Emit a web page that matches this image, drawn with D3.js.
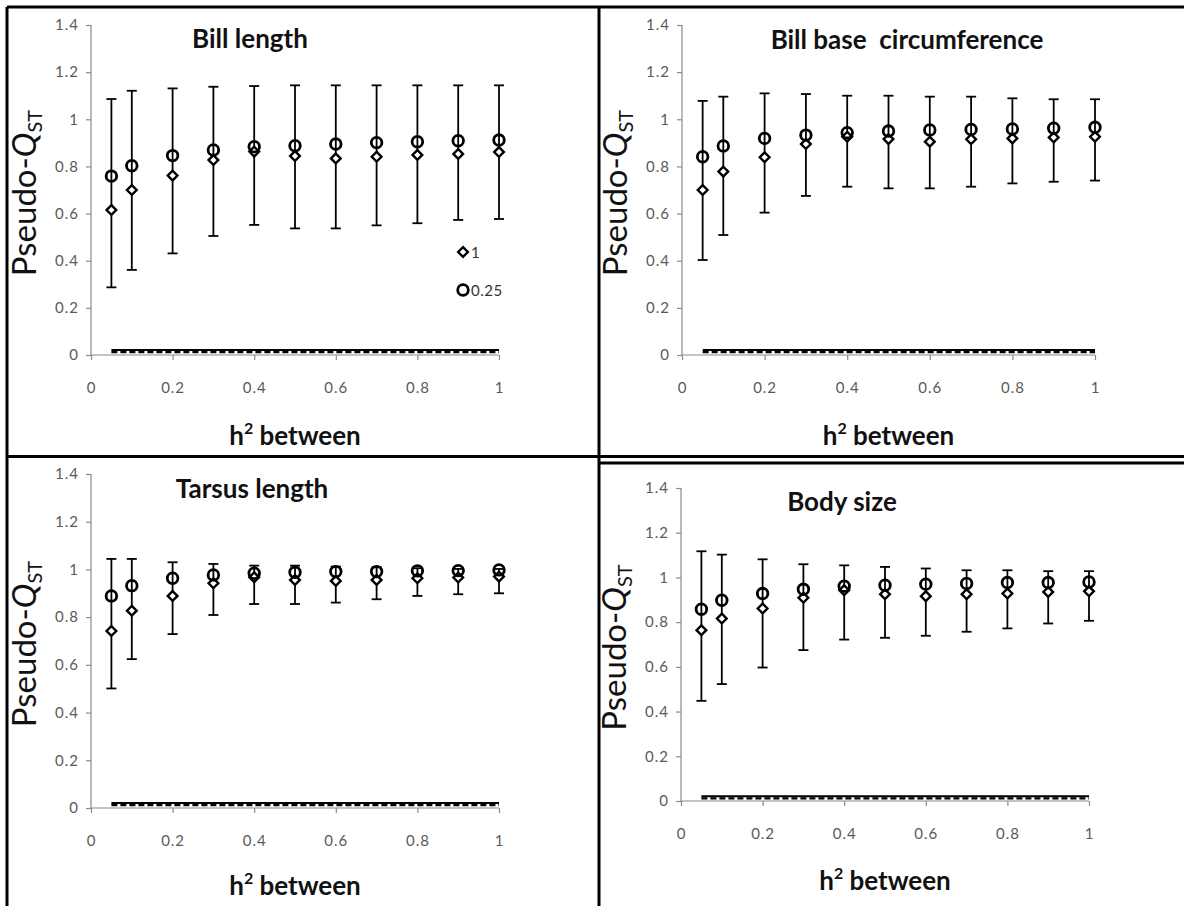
<!DOCTYPE html>
<html lang="en">
<head>
<meta charset="utf-8">
<title>Pseudo-QST panels</title>
<style type="text/css">
  body { margin: 0; background: #fff; }
  svg { display: block; }
</style>
</head>
<body>
<script src="https://cdnjs.cloudflare.com/ajax/libs/d3/7.8.5/d3.min.js"></script>
<script>

    var w = 1184;
    var h = 906;

    // x positions (h2 between)
    var xVals = [0.05, 0.1, 0.2, 0.3, 0.4, 0.5, 0.6, 0.7, 0.8, 0.9, 1];
    var xTicks = [0, 0.2, 0.4, 0.6, 0.8, 1];
    var yTicks = [0, 0.2, 0.4, 0.6, 0.8, 1, 1.2, 1.4];
    var legendNames = ["1", "0.25"];
    var titles = ["Bill length", "Bill base  circumference", "Tarsus length", "Body size"];

    // Bill length
    var billDiamond = [0.615, 0.70, 0.761, 0.827, 0.863, 0.844, 0.834, 0.841, 0.849, 0.853, 0.861];
    var billCircle  = [0.759, 0.803, 0.846, 0.870, 0.884, 0.888, 0.895, 0.901, 0.905, 0.909, 0.912];
    var billHi      = [1.086, 1.121, 1.131, 1.138, 1.141, 1.144, 1.144, 1.144, 1.144, 1.144, 1.144];
    var billLo      = [0.287, 0.361, 0.431, 0.505, 0.552, 0.537, 0.537, 0.550, 0.559, 0.573, 0.577];

    // Bill base circumference
    var baseDiamond = [0.700, 0.778, 0.839, 0.895, 0.926, 0.916, 0.905, 0.915, 0.919, 0.923, 0.926];
    var baseCircle  = [0.841, 0.887, 0.919, 0.933, 0.943, 0.950, 0.955, 0.957, 0.959, 0.962, 0.966];
    var baseHi      = [1.078, 1.096, 1.110, 1.107, 1.100, 1.100, 1.096, 1.096, 1.089, 1.085, 1.085];
    var baseLo      = [0.403, 0.509, 0.604, 0.675, 0.714, 0.707, 0.707, 0.714, 0.728, 0.735, 0.740];

    // Tarsus length
    var tarsDiamond = [0.742, 0.827, 0.889, 0.942, 0.967, 0.956, 0.952, 0.956, 0.963, 0.966, 0.970];
    var tarsCircle  = [0.889, 0.932, 0.963, 0.977, 0.984, 0.988, 0.991, 0.991, 0.994, 0.995, 0.998];
    var tarsHi      = [1.044, 1.044, 1.030, 1.023, 1.016, 1.016, 1.012, 1.009, 1.005, 1.002, 1.002];
    var tarsLo      = [0.501, 0.624, 0.729, 0.809, 0.855, 0.855, 0.861, 0.875, 0.889, 0.896, 0.900];

    // Body size
    var bodyDiamond = [0.764, 0.816, 0.861, 0.909, 0.943, 0.925, 0.916, 0.925, 0.928, 0.935, 0.938];
    var bodyCircle  = [0.858, 0.898, 0.928, 0.947, 0.961, 0.965, 0.970, 0.973, 0.977, 0.977, 0.980];
    var bodyHi      = [1.117, 1.102, 1.081, 1.059, 1.054, 1.047, 1.040, 1.032, 1.032, 1.028, 1.028];
    var bodyLo      = [0.448, 0.523, 0.597, 0.675, 0.722, 0.730, 0.739, 0.757, 0.772, 0.794, 0.806];

    // neutral reference lines (solid and dashed) near zero
    var solidLevel = 0.021;
    var dashedLevel = 0.012;

    var seriesD = [billDiamond, baseDiamond, tarsDiamond, bodyDiamond];
    var seriesC = [billCircle, baseCircle, tarsCircle, bodyCircle];
    var seriesHi = [billHi, baseHi, tarsHi, bodyHi];
    var seriesLo = [billLo, baseLo, tarsLo, bodyLo];

    // panel layout in pixels
    var panels = [
        {x0: 91, x1: 499, y0: 355, y1: 25, tx: 250, ty: 48, ay: 445},
        {x0: 682, x1: 1095, y0: 355, y1: 25, tx: 907, ty: 49, ay: 445},
        {x0: 91, x1: 499, y0: 808, y1: 474, tx: 252, ty: 498, ay: 895},
        {x0: 681, x1: 1089, y0: 801, y1: 488, tx: 842, ty: 511, ay: 890}
    ];

    var font = "Lato, 'Open Sans', sans-serif";

    var svg = d3.select("body")
            .append("svg")
            .attr("width", w)
            .attr("height", h);

    svg.append("rect").attr("width", w).attr("height", h).attr("fill", "#fff");

    panels.forEach(function(p, k){

        var x = d3.scaleLinear().domain([0, 1]).range([p.x0, p.x1]);
        var y = d3.scaleLinear().domain([0, 1.4]).range([p.y0, p.y1]);
        var g = svg.append("g");

        // axes
        var yAxis = d3.axisLeft(y).tickValues(yTicks).tickFormat(d3.format("~g"))
            .tickSize(5).tickPadding(7);
        var xAxis = d3.axisBottom(x).tickValues(xTicks).tickFormat(d3.format("~g"))
            .tickSize(5).tickPadding(22);

        var ya = g.append("g").attr("transform", "translate(" + p.x0 + ",0)").call(yAxis);
        var xa = g.append("g").attr("transform", "translate(0," + p.y0 + ")").call(xAxis);
        [ya, xa].forEach(function(a){
            a.selectAll("path.domain").attr("stroke", "#8a8a8a").attr("stroke-width", 1.2);
            a.selectAll(".tick line").attr("stroke", "#8a8a8a").attr("stroke-width", 1.2);
            a.selectAll(".tick text").attr("fill", "#5a5a5a")
                .attr("font-family", font).attr("font-size", 15)
                .attr("letter-spacing", 1);
        });
        // remove outer tick stubs at the ends of the domain path
        ya.select("path.domain").attr("d", "M0," + p.y0 + "V" + p.y1);
        xa.select("path.domain").attr("d", "M" + p.x0 + ",0H" + p.x1);

        // baseline reference lines
        g.append("line")
            .attr("x1", x(xVals[0])).attr("x2", x(xVals[xVals.length - 1]))
            .attr("y1", y(solidLevel)).attr("y2", y(solidLevel))
            .attr("stroke", "#000").attr("stroke-width", 2);
        g.append("line")
            .attr("x1", x(xVals[0])).attr("x2", x(xVals[xVals.length - 1]))
            .attr("y1", y(dashedLevel)).attr("y2", y(dashedLevel))
            .attr("stroke", "#000").attr("stroke-width", 2.2)
            .attr("stroke-dasharray", "6,3");

        // error bars
        var hi = seriesHi[k], lo = seriesLo[k];
        var eb = g.selectAll("g.err")
            .data(xVals)
            .enter()
            .append("g").attr("class", "err");
        eb.append("line")
            .attr("x1", function(d){ return x(d); })
            .attr("x2", function(d){ return x(d); })
            .attr("y1", function(d, i){ return y(hi[i]); })
            .attr("y2", function(d, i){ return y(lo[i]); })
            .attr("stroke", "#000").attr("stroke-width", 1.8);
        eb.append("line")
            .attr("x1", function(d){ return x(d) - 5; })
            .attr("x2", function(d){ return x(d) + 5; })
            .attr("y1", function(d, i){ return y(hi[i]); })
            .attr("y2", function(d, i){ return y(hi[i]); })
            .attr("stroke", "#000").attr("stroke-width", 1.8);
        eb.append("line")
            .attr("x1", function(d){ return x(d) - 5; })
            .attr("x2", function(d){ return x(d) + 5; })
            .attr("y1", function(d, i){ return y(lo[i]); })
            .attr("y2", function(d, i){ return y(lo[i]); })
            .attr("stroke", "#000").attr("stroke-width", 1.8);

        // diamonds (1)
        var dia = d3.symbol().type(d3.symbolDiamond2).size(60);
        g.selectAll("path.dia")
            .data(seriesD[k])
            .enter()
            .append("path").attr("class", "dia")
            .attr("d", dia)
            .attr("transform", function(d, i){ return "translate(" + x(xVals[i]) + "," + y(d) + ")"; })
            .attr("fill", "#fff").attr("stroke", "#000").attr("stroke-width", 2.4);

        // circles (0.25)
        g.selectAll("circle.cir")
            .data(seriesC[k])
            .enter()
            .append("circle").attr("class", "cir")
            .attr("cx", function(d, i){ return x(xVals[i]); })
            .attr("cy", function(d){ return y(d); })
            .attr("r", 5.3)
            .attr("fill", "none").attr("stroke", "#000").attr("stroke-width", 2.8);

        // panel title
        g.append("text")
            .attr("x", p.tx).attr("y", p.ty)
            .attr("text-anchor", "middle")
            .attr("font-family", font).attr("font-weight", "bold")
            .attr("font-size", 26).attr("fill", "#111")
            .attr("xml:space", "preserve")
            .text(titles[k]);

        // x axis title
        var xt = g.append("text")
            .attr("x", (p.x0 + p.x1) / 2).attr("y", p.ay)
            .attr("text-anchor", "middle")
            .attr("font-family", font).attr("font-weight", "bold")
            .attr("font-size", 26).attr("fill", "#111");
        xt.append("tspan").text("h");
        xt.append("tspan").attr("font-size", 16).attr("dy", -11).text("2");
        xt.append("tspan").attr("dy", 11).text(" between");

        // y axis title
        var yt = g.append("text")
            .attr("transform", "translate(" + (p.x0 - 55) + "," + ((p.y0 + p.y1) / 2 + 3) + ") rotate(-90)")
            .attr("text-anchor", "middle")
            .attr("font-family", font).attr("font-size", 33).attr("fill", "#111");
        yt.append("tspan").text("Pseudo-");
        yt.append("tspan").attr("font-style", "italic").text("Q");
        yt.append("tspan").attr("font-size", 20).attr("dy", 6).text("ST");

        // legend only in the first panel
        if (k === 0) {
            var lg = g.append("g");
            lg.append("path").attr("d", dia)
                .attr("transform", "translate(463,252)")
                .attr("fill", "#fff").attr("stroke", "#000").attr("stroke-width", 2.4);
            lg.append("circle").attr("cx", 463).attr("cy", 290).attr("r", 5.3)
                .attr("fill", "none").attr("stroke", "#000").attr("stroke-width", 2.8);
            lg.selectAll("text")
                .data(legendNames)
                .enter()
                .append("text")
                .attr("x", 471)
                .attr("y", function(d, i){ return 258 + i * 38; })
                .attr("font-family", font).attr("font-size", 15).attr("fill", "#333")
                .attr("letter-spacing", 0.5)
                .text(function(d){ return d; });
        }
    });

    // table borders
    var bw = 3;
    var borders = [
        [7, 7, 1184, 7],
        [7, 7, 7, 906],
        [599, 7, 599, 906],
        [7, 456.5, 1184, 456.5],
        [599, 463, 1184, 463]
    ];
    svg.selectAll("line.border")
        .data(borders)
        .enter()
        .append("line").attr("class", "border")
        .attr("x1", function(d){ return d[0]; })
        .attr("y1", function(d){ return d[1]; })
        .attr("x2", function(d){ return d[2]; })
        .attr("y2", function(d){ return d[3]; })
        .attr("stroke", "#000").attr("stroke-width", bw);

</script>
</body>
</html>
